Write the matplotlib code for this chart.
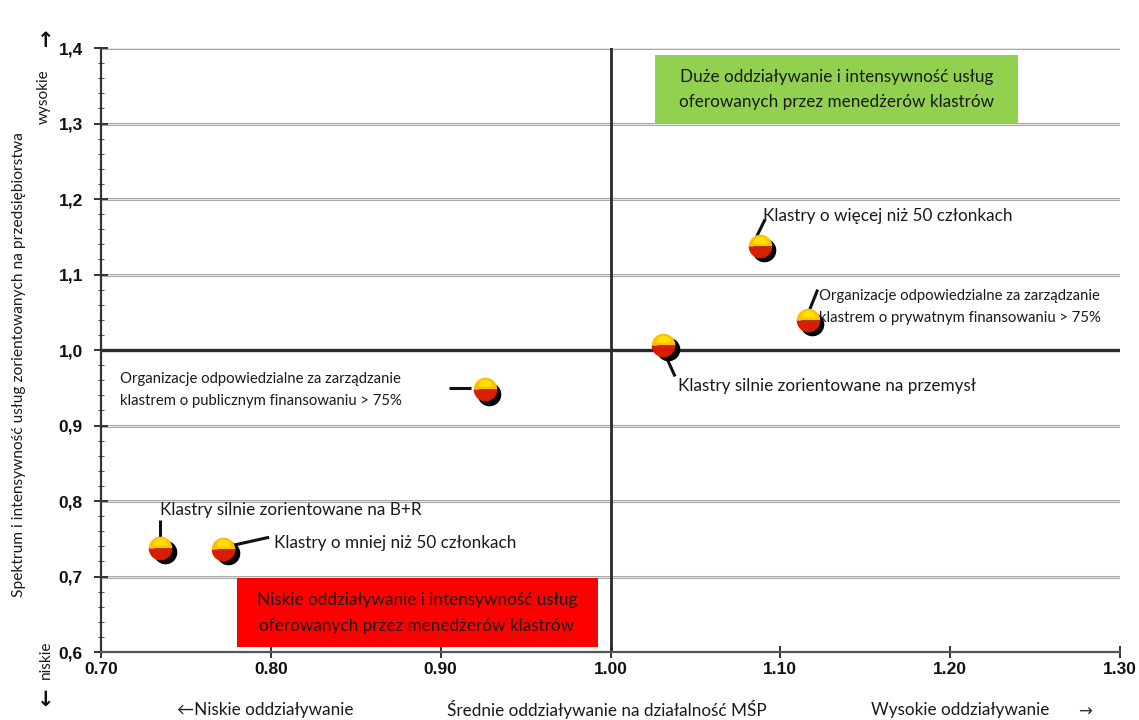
import matplotlib
matplotlib.use("Agg")
import matplotlib.pyplot as plt
import matplotlib.transforms as mtransforms
from matplotlib.patches import Rectangle
from matplotlib.ticker import MultipleLocator, FixedLocator, FuncFormatter

# --- data -------------------------------------------------------------
labels = [
    "Klastry o więcej niż 50 członkach",
    "Organizacje odpowiedzialne za zarządzanie\nklastrem o prywatnym finansowaniu > 75%",
    "Klastry silnie zorientowane na przemysł",
    "Organizacje odpowiedzialne za zarządzanie\nklastrem o publicznym finansowaniu > 75%",
    "Klastry silnie zorientowane na B+R",
    "Klastry o mniej niż 50 członkach",
]
impact = [1.088, 1.116, 1.031, 0.926, 0.735, 0.772]      # x
intensity = [1.138, 1.040, 1.007, 0.948, 0.738, 0.737]   # y

x_ticks = [0.70, 0.80, 0.90, 1.00, 1.10, 1.20, 1.30]
y_ticks = [0.6, 0.7, 0.8, 0.9, 1.0, 1.1, 1.2, 1.3, 1.4]

high_box_text = "Duże oddziaływanie i intensywność usług\noferowanych przez menedżerów klastrów"
low_box_text = "Niskie oddziaływanie i intensywność usług\noferowanych przez menedżerów klastrów"

# --- figure -----------------------------------------------------------
fig = plt.figure(figsize=(11.39, 7.2), dpi=100)
ax = fig.add_axes([0.0887, 0.0944, 0.8946, 0.8389])
ax.set_xlim(0.70, 1.30)
ax.set_ylim(0.6, 1.4)

txt_font = ["Lato", "DejaVu Sans"]
tick_font = "Liberation Sans"

# horizontal grid lines
for yv in y_ticks[1:]:
    if abs(yv - 1.0) < 1e-9:
        continue
    ax.axhline(yv, color="#a8a8a8", lw=2.2, zorder=1)
    ax.axhline(yv, color="#f0f0f0", lw=0.6, zorder=1.1)

# quadrant dividers
ax.axhline(1.0, color="#2a2a2a", lw=2.4, zorder=2)
ax.axvline(1.0, color="#2a2a2a", lw=2.0, zorder=2)

# spines
for s in ("top", "right"):
    ax.spines[s].set_visible(False)
ax.spines["left"].set_color("#333333")
ax.spines["left"].set_linewidth(1.6)
ax.spines["bottom"].set_color("#555555")
ax.spines["bottom"].set_linewidth(1.6)

# ticks
ax.xaxis.set_major_locator(FixedLocator(x_ticks))
ax.yaxis.set_major_locator(FixedLocator(y_ticks))
ax.yaxis.set_minor_locator(MultipleLocator(0.02))
ax.xaxis.set_major_formatter(FuncFormatter(lambda v, p: f"{v:.2f}"))
ax.yaxis.set_major_formatter(FuncFormatter(lambda v, p: f"{v:.1f}".replace(".", ",")))
ax.tick_params(axis="x", direction="inout", length=8, width=1.4, colors="#333333",
               labelsize=12.5, pad=3)
ax.tick_params(axis="y", which="major", direction="inout", length=10, width=1.4,
               colors="#333333", labelsize=12.5, pad=8)
ax.tick_params(axis="y", which="minor", direction="inout", length=4, width=0.8,
               colors="#555555")
for lab in ax.get_xticklabels() + ax.get_yticklabels():
    lab.set_fontfamily(tick_font)
    lab.set_fontweight("bold")
    lab.set_color("#111111")

# quadrant description boxes
ax.add_patch(Rectangle((1.026, 1.299), 0.214, 0.092, facecolor="#92d050",
                       edgecolor="none", zorder=3))
ax.text(1.133, 1.345, high_box_text, ha="center", va="center", fontsize=12.3,
        family=txt_font, linespacing=1.75, color="#1a1a1a", zorder=4)
ax.add_patch(Rectangle((0.780, 0.607), 0.2126, 0.091, facecolor="#ff0000",
                       edgecolor="none", zorder=3))
ax.text(0.886, 0.652, low_box_text, ha="center", va="center", fontsize=12.3,
        family=txt_font, linespacing=1.75, color="#1a1a1a", zorder=4)

# markers: drop shadow + shaded ball
shadow = mtransforms.offset_copy(ax.transData, fig=fig, x=3.2, y=-3.2, units="points")
ax.plot(impact, intensity, "o", ms=17, color="black", mec="none",
        transform=shadow, zorder=5)
ax.plot(impact, intensity, "o", ms=17, fillstyle="top", markerfacecolor="#ffbf00",
        markerfacecoloralt="#d81e00", mec="none", zorder=6)
# brighter cap on the upper half
cap = mtransforms.offset_copy(ax.transData, fig=fig, x=0, y=2.2, units="points")
ax.plot(impact, intensity, "o", ms=10, fillstyle="top", markerfacecolor="#ffe000",
        markerfacecoloralt="none", mec="none", transform=cap, zorder=6.5)

# labels with leader lines: (text position, leader start, leader end, font size)
ann = [
    ((1.090, 1.178), (1.086, 1.150), (1.091, 1.173), 12.3),
    ((1.123, 1.057), (1.117, 1.052), (1.122, 1.080), 10.7),
    ((1.040, 0.953), (1.032, 0.995), (1.038, 0.965), 12.3),
    ((0.711, 0.947), (0.905, 0.950), (0.918, 0.950), 10.7),
    ((0.735, 0.788), (0.735, 0.752), (0.735, 0.775), 12.3),
    ((0.802, 0.745), (0.779, 0.742), (0.799, 0.752), 12.3),
]
for lab, (tpos, p0, p1, fs) in zip(labels, ann):
    ax.plot([p0[0], p1[0]], [p0[1], p1[1]], color="#111111", lw=2.2,
            solid_capstyle="butt", zorder=4)
    ax.text(tpos[0], tpos[1], lab, ha="left", va="center", fontsize=fs,
            family=txt_font, linespacing=1.8, color="#1a1a1a", zorder=7)

# axis descriptions
fig.text(0.0167, 0.494, "Spektrum i intensywność usług zorientowanych na przedsiębiorstwa",
         rotation=90, ha="center", va="center", fontsize=11.2, family=txt_font,
         color="#1a1a1a")
fig.text(0.038, 0.866, "wysokie", rotation=90, ha="center", va="center",
         fontsize=11, family=txt_font, color="#1a1a1a")
fig.text(0.040, 0.083, "niskie", rotation=90, ha="center", va="center",
         fontsize=11, family=txt_font, color="#1a1a1a")
fig.text(0.040, 0.943, "↑", ha="center", va="center", fontsize=15,
         fontweight="bold", family="DejaVu Sans", color="#111111")
fig.text(0.040, 0.028, "↓", ha="center", va="center", fontsize=15,
         fontweight="bold", family="DejaVu Sans", color="#111111")

fig.text(0.233, 0.014, "←Niskie oddziaływanie", ha="center", va="center",
         fontsize=12.3, family=txt_font, color="#1a1a1a")
fig.text(0.533, 0.014, "Średnie oddziaływanie na działalność MŚP", ha="center",
         va="center", fontsize=12.3, family=txt_font, color="#1a1a1a")
fig.text(0.843, 0.014, "Wysokie oddziaływanie", ha="center", va="center",
         fontsize=12.3, family=txt_font, color="#1a1a1a")
fig.text(0.953, 0.012, "→", ha="center", va="center", fontsize=12,
         family="DejaVu Sans", color="#333333")

fig.savefig("out.png", dpi=100, facecolor="white")
